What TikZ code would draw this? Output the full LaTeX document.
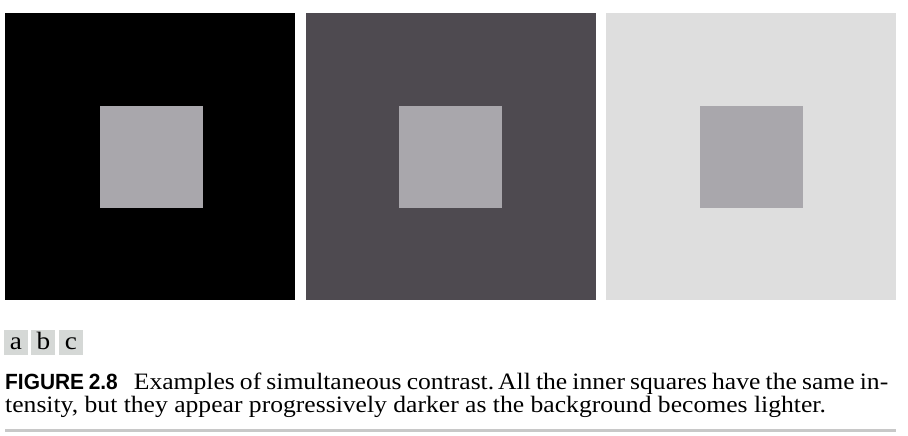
\documentclass[tikz,border=0pt]{standalone}
\usepackage{fontspec}
\setmainfont{Liberation Serif}[FakeStretch=1.09]
\newfontfamily\figfont[FakeStretch=0.95]{Liberation Sans}
\usetikzlibrary{positioning}
\definecolor{bgblack}{RGB}{0,0,0}
\definecolor{bgdark}{RGB}{78,74,80}
\definecolor{bglight}{RGB}{222,222,222}
\definecolor{innergray}{RGB}{169,167,172}
\definecolor{tagbox}{RGB}{213,216,214}
\definecolor{ruleline}{RGB}{200,200,200}

\begin{document}
\begin{tikzpicture}[x=1pt,y=-1pt,
    outer/.style={minimum width=290pt,minimum height=287pt,inner sep=0pt,outer sep=0pt},
    inner/.style={minimum width=103pt,minimum height=102pt,inner sep=0pt,outer sep=0pt,fill=innergray},
    tag/.style={fill=tagbox,minimum width=24pt,minimum height=25pt,inner sep=0pt,
      text height=17pt,text depth=3pt,font=\fontsize{25}{26}\selectfont},
    caption/.style={anchor=base west,inner sep=0pt,font=\fontsize{23.5}{25}\selectfont}]
  \useasboundingbox[fill=white] (0,0) rectangle (908,436);
  %% three backgrounds with the same inner square
  \node[outer,fill=bgblack] (pa) at (150,156.5) {};
  \node[outer,fill=bgdark] (pb) at (451,156.5) {};
  \node[outer,fill=bglight] (pc) at (751,156.5) {};
  \node[inner] (qa) at (151,157) {};
  \node[inner] (qb) at (450.5,157) {};
  \node[inner] (qc) at (751,157) {};
  %% panel tags
  \node[tag] (ta) at (16,342.5) {a};
  \node[tag,right=3pt of ta] (tb) {b};
  \node[tag,right=3pt of tb] (tc) {c};
  %% caption
  \node[caption] (capa) at (5,389) {\makebox[883pt][s]{{\figfont\bfseries\fontsize{22}{23}\selectfont FIGURE 2.8}\hspace{16pt}Examples of simultaneous contrast.\,All the inner squares have the same in-}};
  \node[caption] (capb) at (5,412) {tensity, but they appear progressively darker as the background becomes lighter.};
  \coordinate (ra) at (5,430);
  \coordinate (rb) at (896,430);
  \draw[ruleline,line width=3pt] (ra) -- (rb);
\end{tikzpicture}
\end{document}
